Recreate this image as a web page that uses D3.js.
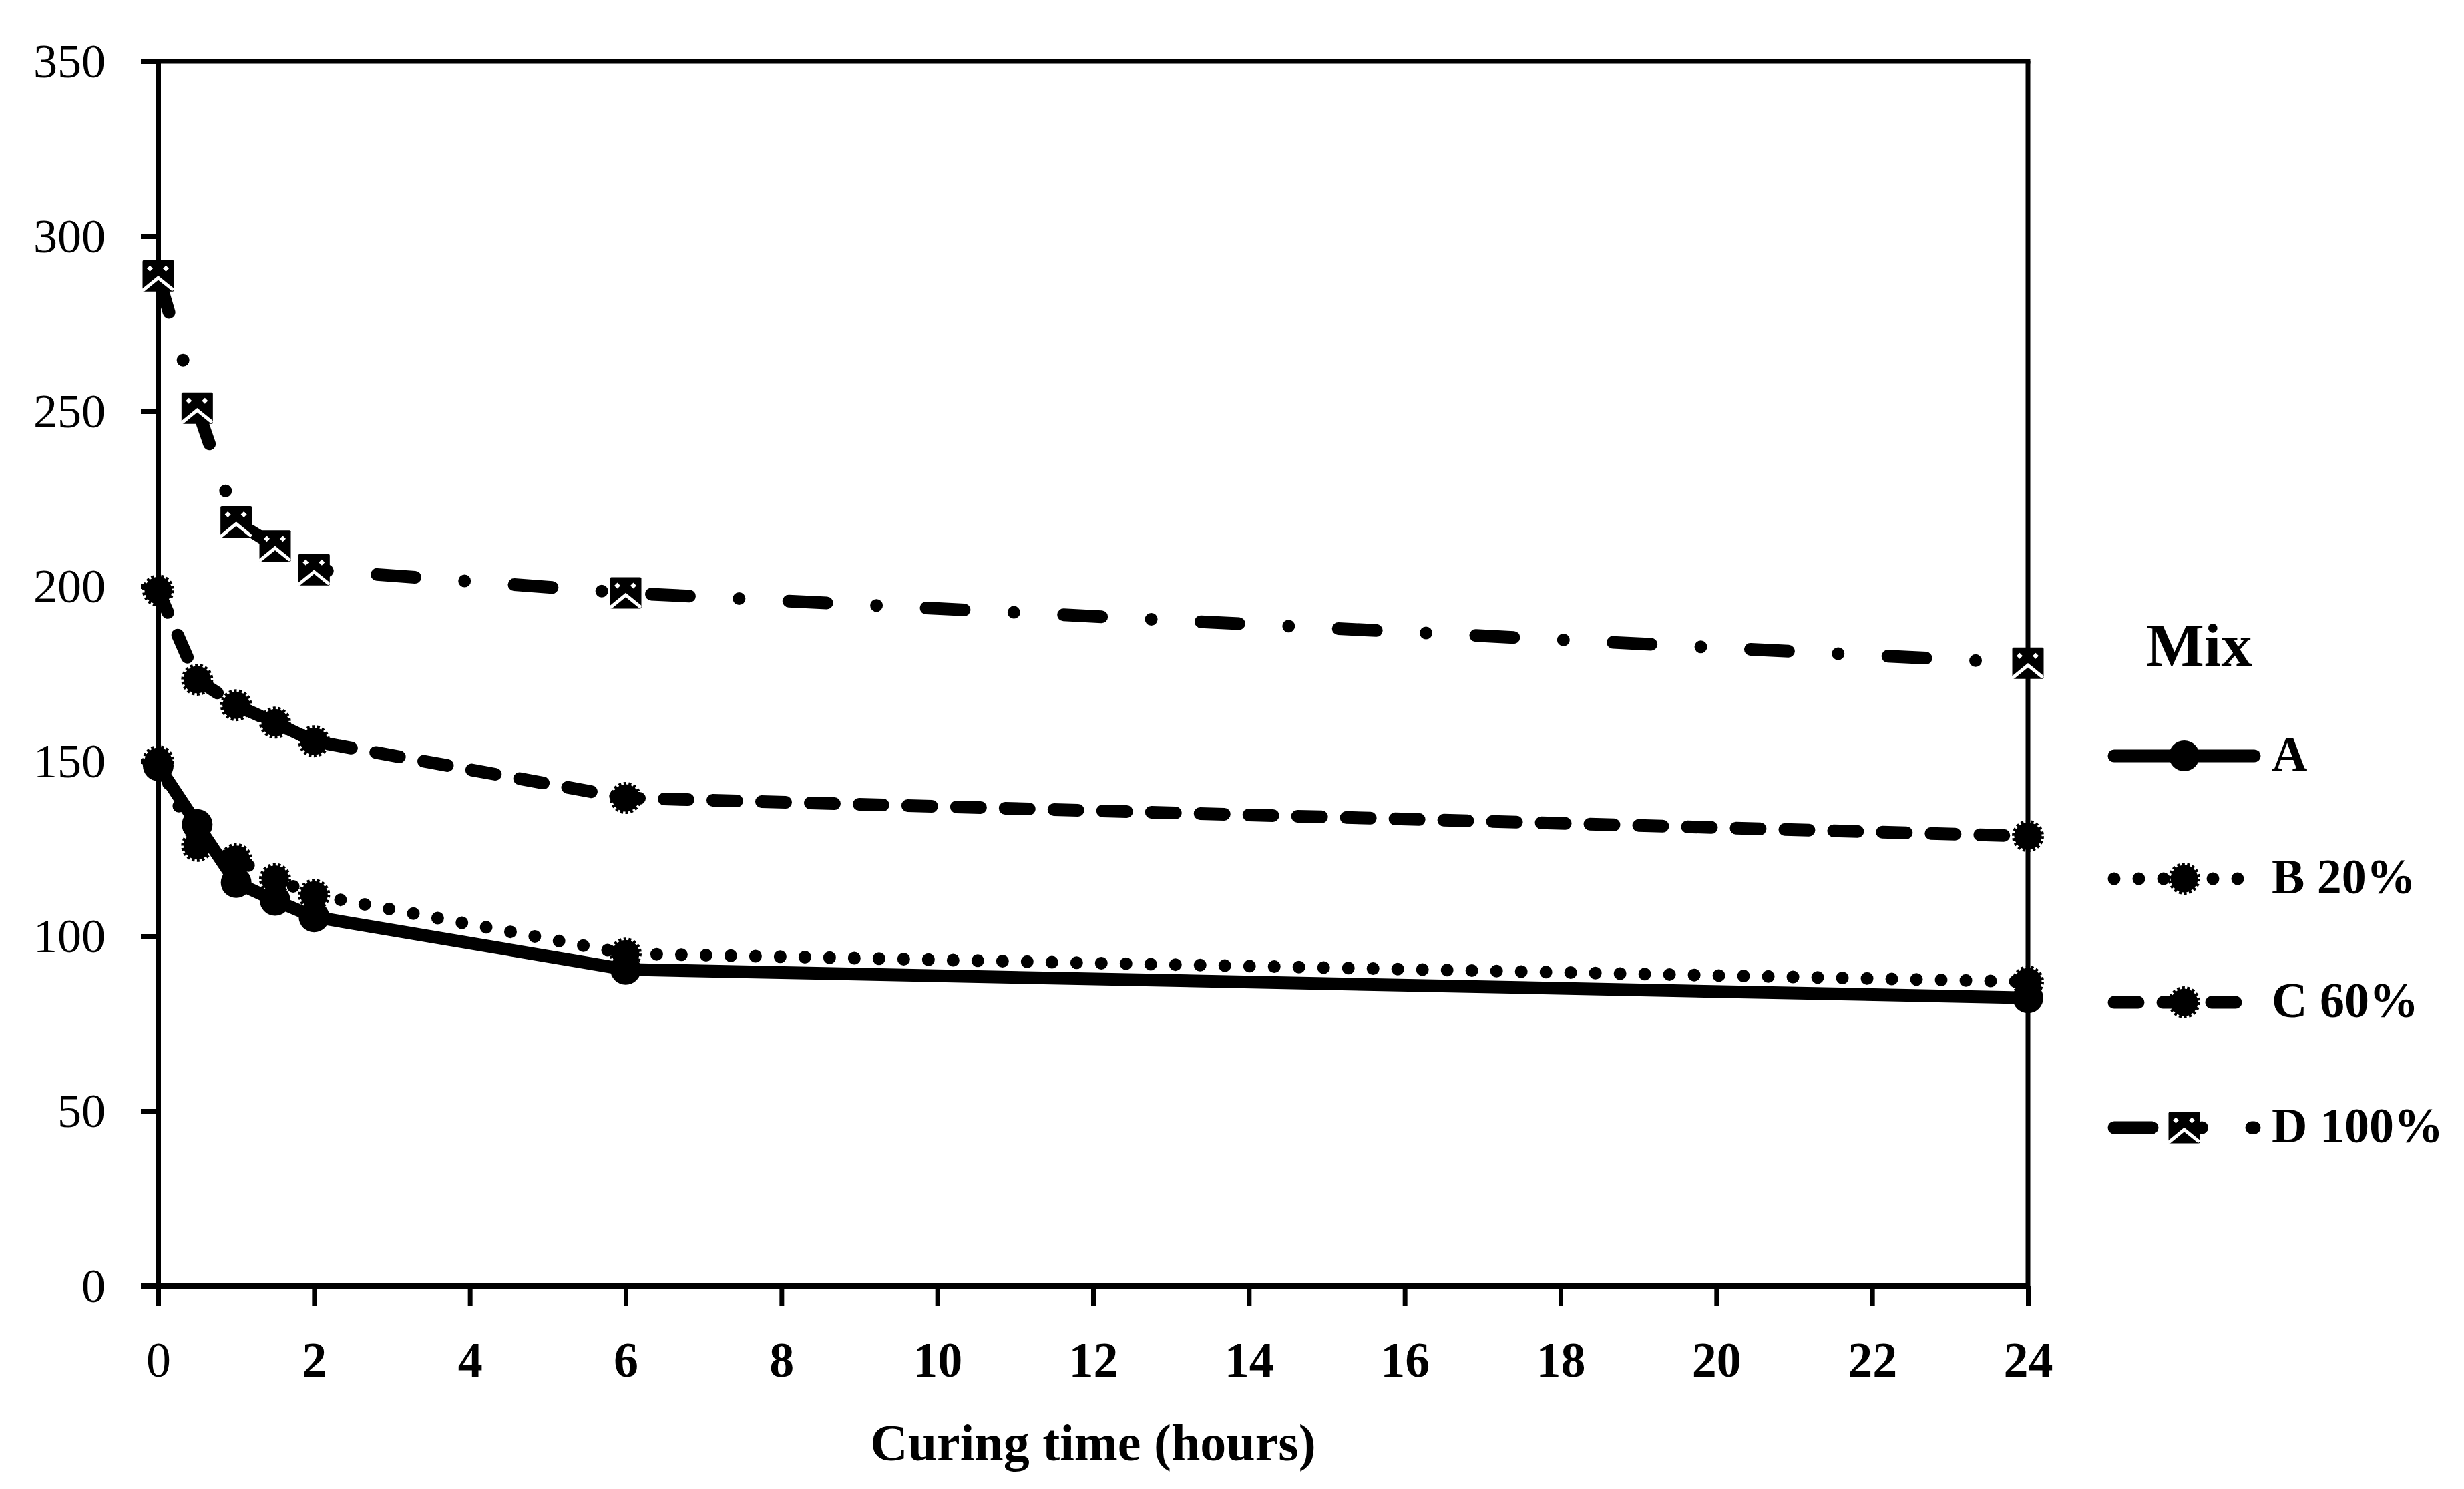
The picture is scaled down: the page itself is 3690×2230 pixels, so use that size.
<!DOCTYPE html>
<html>
<head>
<meta charset="utf-8">
<script src="https://cdn.jsdelivr.net/npm/d3@7"></script>
<style>
  html, body { margin: 0; padding: 0; background: #fff; }
  svg { display: block; }
</style>
</head>
<body>
<svg id="chart" width="3690" height="2230"></svg>
<script>
// ---- data ----
const hours = [0, 0.5, 1, 1.5, 2, 6, 24];
const mixA = [148.7, 131.9, 115.3, 110.2, 105.5, 90.5, 82.4];
const mixB = [150.0, 125.8, 122.0, 116.3, 111.8, 95.0, 87.0];
const mixC = [198.8, 173.3, 166.0, 161.0, 155.7, 139.5, 128.6];
const mixD = [288.7, 250.9, 218.4, 211.5, 204.7, 198.1, 178.0];
const seriesNames = ["A", "B 20%", "C 60%", "D 100%"];
const xTicks = [0, 2, 4, 6, 8, 10, 12, 14, 16, 18, 20, 22, 24];
const yTicks = [0, 50, 100, 150, 200, 250, 300, 350];
const xTitle = "Curing time (hours)";
const legendTitle = "Mix";

// ---- layout ----
const svg = d3.select("#chart");
svg.append("rect").attr("width", 3690).attr("height", 2230).attr("fill", "#fff");
const L = 237, R = 3037, T = 92, B = 1926;
const x = d3.scaleLinear().domain([0, 24]).range([L, R]);
const y = d3.scaleLinear().domain([0, 350]).range([B, T]);
const FONT = "'Liberation Serif', 'Times New Roman', serif";

const styles = [
  { key: "A", dash: null, marker: "circle" },
  { key: "B", dash: "0 37", marker: "gear" },
  { key: "C", dash: "36 37", marker: "gear" },
  { key: "D", dash: "57 74.5 0 74.5", marker: "box" }
];
const allSeries = [mixA, mixB, mixC, mixD];

// ---- axes ----
const yAxis = d3.axisLeft(y).tickValues(yTicks).tickSize(26).tickSizeOuter(0).tickPadding(53);
const gy = svg.append("g").attr("transform", `translate(${L},0)`).call(yAxis);
gy.select(".domain").attr("stroke", "#000").attr("stroke-width", 7);
gy.selectAll(".tick line").attr("stroke", "#000").attr("stroke-width", 7);
gy.selectAll(".tick text").attr("font-family", FONT).attr("font-size", 72).attr("fill", "#000");

const xAxis = d3.axisBottom(x).tickValues(xTicks).tickSize(30).tickSizeOuter(0).tickPadding(53);
const gx = svg.append("g").attr("transform", `translate(0,${B})`).call(xAxis);
gx.select(".domain").attr("stroke", "#000").attr("stroke-width", 8);
gx.selectAll(".tick line").attr("stroke", "#000").attr("stroke-width", 7);
gx.selectAll(".tick text").attr("font-family", FONT).attr("font-size", 74).attr("fill", "#000")
  .attr("font-weight", d => d === 0 ? "normal" : "bold");

// frame: top and right border, x-axis extended to left tick
svg.append("line").attr("x1", L - 26).attr("x2", R + 3.5).attr("y1", y(350)).attr("y2", y(350))
  .attr("stroke", "#000").attr("stroke-width", 7);
svg.append("line").attr("x1", R).attr("x2", R).attr("y1", y(350)).attr("y2", B)
  .attr("stroke", "#000").attr("stroke-width", 7);
svg.append("line").attr("x1", L - 26).attr("x2", R).attr("y1", B).attr("y2", B)
  .attr("stroke", "#000").attr("stroke-width", 8);

// axis title
svg.append("text").attr("x", (L + R) / 2).attr("y", 2187).attr("text-anchor", "middle")
  .attr("font-family", FONT).attr("font-weight", "bold").attr("font-size", 78).text(xTitle);

// ---- markers ----
function drawMarker(g, type) {
  if (type === "circle") {
    g.append("circle").attr("r", 23).attr("fill", "#000");
  } else if (type === "gear") {
    g.append("circle").attr("r", 20.5).attr("fill", "#000");
    g.append("circle").attr("r", 21.5).attr("fill", "none").attr("stroke", "#000")
      .attr("stroke-width", 5).attr("stroke-dasharray", "4 3.5");
  } else {
    g.append("rect").attr("x", -23.5).attr("y", -23.5).attr("width", 47).attr("height", 47)
      .attr("rx", 2).attr("fill", "#000");
    const dia = (cx, cy) => `M${cx},${cy - 4.5}L${cx + 4.5},${cy}L${cx},${cy + 4.5}L${cx - 4.5},${cy}Z`;
    g.append("path").attr("d", dia(-12.5, -11) + dia(11.5, -11)).attr("fill", "#fff");
    g.append("path").attr("d", "M-22,21L0,3L21,20").attr("fill", "none")
      .attr("stroke", "#fff").attr("stroke-width", 5).attr("stroke-linecap", "round");
  }
}

// ---- lines ----
const line = d3.line().x(d => x(d[0])).y(d => y(d[1]));
const order = [3, 2, 1, 0];
order.forEach(i => {
  const pts = hours.map((h, k) => [h, allSeries[i][k]]);
  const p = svg.append("path").datum(pts).attr("d", line)
    .attr("fill", "none").attr("stroke", "#000").attr("stroke-width", 19)
    .attr("stroke-linecap", "round").attr("stroke-linejoin", "round");
  if (styles[i].dash) p.attr("stroke-dasharray", styles[i].dash);
});
order.forEach(i => {
  hours.forEach((h, k) => {
    const g = svg.append("g").attr("transform", `translate(${x(h)},${y(allSeries[i][k])})`);
    drawMarker(g, styles[i].marker);
  });
});

// ---- legend ----
svg.append("text").attr("x", 3214).attr("y", 997).attr("font-family", FONT)
  .attr("font-weight", "bold").attr("font-size", 92).text(legendTitle);
const legendY = [1132, 1316, 1501, 1689];
seriesNames.forEach((name, i) => {
  const ly = legendY[i];
  const p = svg.append("line").attr("x1", 3166).attr("x2", 3376).attr("y1", ly).attr("y2", ly)
    .attr("stroke", "#000").attr("stroke-width", 19).attr("stroke-linecap", "round");
  if (styles[i].dash) p.attr("stroke-dasharray", styles[i].dash);
  const g = svg.append("g").attr("transform", `translate(3271,${ly})`);
  drawMarker(g, styles[i].marker);
  svg.append("text").attr("x", 3402).attr("y", ly + 22).attr("font-family", FONT)
    .attr("font-weight", "bold").attr("font-size", 74).text(name);
});
</script>
</body>
</html>
